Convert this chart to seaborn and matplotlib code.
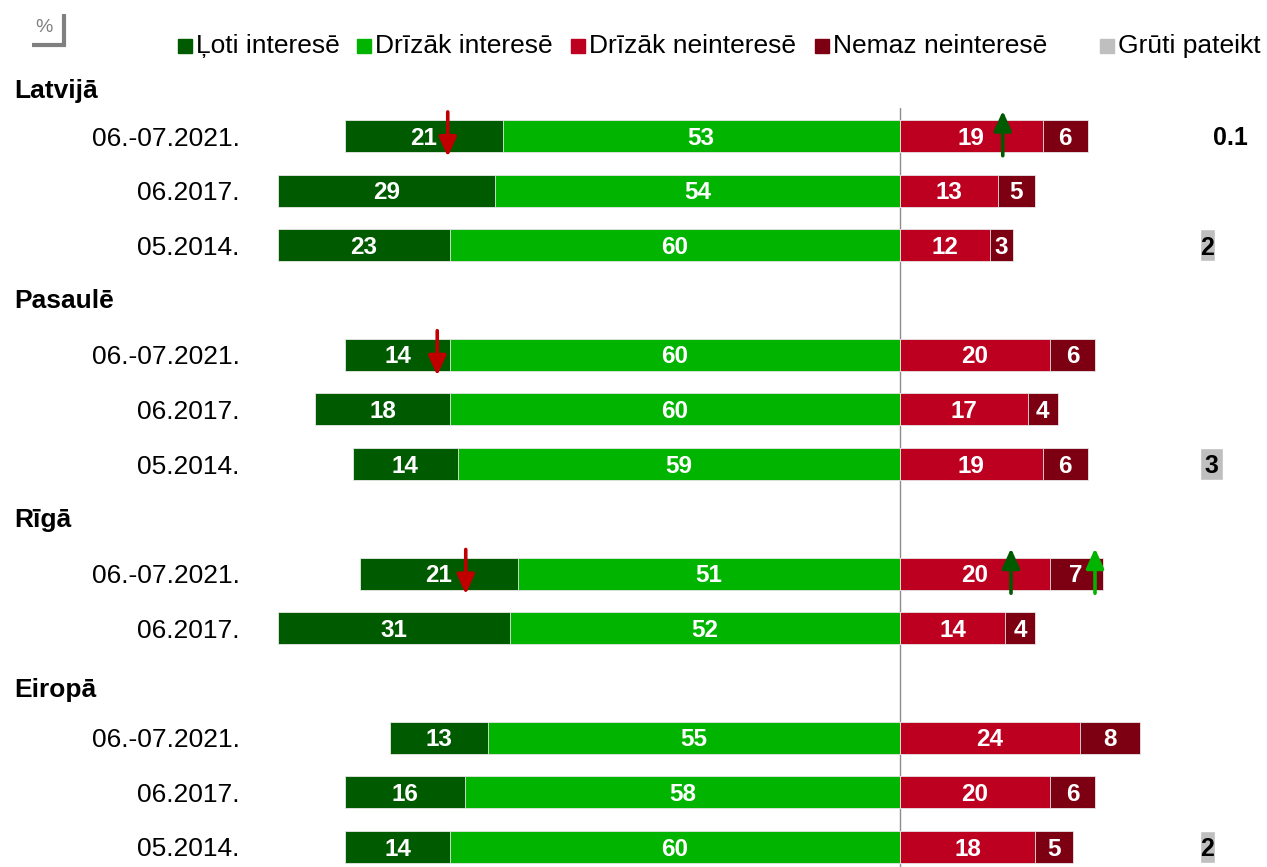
import matplotlib
matplotlib.use('Agg')
import matplotlib.pyplot as plt
from matplotlib.patches import Rectangle
from matplotlib.lines import Line2D
from matplotlib.transforms import blended_transform_factory
import seaborn as sns
import pandas as pd
import numpy as np

# data
groups = ['Latvijā', 'Pasaulē', 'Rīgā', 'Eiropā']
dates = ['06.-07.2021.', '06.2017.', '05.2014.',
         '06.-07.2021.', '06.2017.', '05.2014.',
         '06.-07.2021.', '06.2017.',
         '06.-07.2021.', '06.2017.', '05.2014.']
group_of_row = [0, 0, 0, 1, 1, 1, 2, 2, 3, 3, 3]
very = [21, 29, 23, 14, 18, 14, 21, 31, 13, 16, 14]
rather = [53, 54, 60, 60, 60, 59, 51, 52, 55, 58, 60]
rather_not = [19, 13, 12, 20, 17, 19, 20, 14, 24, 20, 18]
not_at_all = [6, 5, 3, 6, 4, 6, 7, 4, 8, 6, 5]
hard = [0.1, np.nan, 2, np.nan, np.nan, 3, np.nan, np.nan, np.nan, np.nan, 2]
legend_labels = ['Ļoti interesē', 'Drīzāk interesē', 'Drīzāk neinteresē',
                 'Nemaz neinteresē', 'Grūti pateikt']

# significant change markers: (row, x position, direction, colour key)
markers = [(0, -60.3, 'down', 'red'), (0, 13.7, 'up', 'dgreen'),
           (3, -61.7, 'down', 'red'),
           (6, -57.9, 'down', 'red'), (6, 14.8, 'up', 'dgreen'), (6, 26.0, 'up', 'lgreen')]

DGREEN = '#005A00'
LGREEN = '#00B400'
RED = '#BE0020'
DRED = '#7D0012'
GREY = '#BFBFBF'
colors = [DGREEN, LGREEN, RED, DRED, GREY]
arrow_colors = {'red': '#C00000', 'dgreen': '#005A00', 'lgreen': '#00B400'}

sns.set_theme(style='white')
plt.rcParams['font.family'] = ['Liberation Sans', 'DejaVu Sans']
plt.rcParams['text.color'] = 'black'
plt.rcParams['ytick.color'] = 'black'
plt.rcParams['ytick.labelcolor'] = 'black'

# each group header takes one slot, rows follow
pos = []
slot = 0
for g in range(len(groups)):
    slot += 1
    for r, gr in enumerate(group_of_row):
        if gr == g:
            pos.append(slot)
            slot += 1

df = pd.DataFrame({'pos': pos, 'date': dates, 'very': very, 'rather': rather,
                   'rather_not': rather_not, 'not_at_all': not_at_all, 'hard': hard})
df['left_total'] = -(df['very'] + df['rather'])
df['left_inner'] = -df['rather']
df['right_total'] = df['rather_not'] + df['not_at_all']
df['right_inner'] = df['rather_not']

fig = plt.figure(figsize=(12.67, 8.67), dpi=100)
W, H = 1267, 867
ax = fig.add_axes([255 / W, 0, 1 - 255 / W, (867 - 108) / H])

bar_h = 0.585
for col, c in [('left_total', DGREEN), ('left_inner', LGREEN),
               ('right_total', DRED), ('right_inner', RED)]:
    sns.barplot(data=df, x=col, y='pos', orient='y', native_scale=True,
                color=c, saturation=1, width=bar_h, errorbar=None,
                edgecolor='#E8E8E8', linewidth=0.6, ax=ax)

hard_left = 40
ax.barh(df['pos'], df['hard'].fillna(0), left=hard_left, height=bar_h, color=GREY)

# labels inside bars
lab_kw = dict(color='white', fontsize=17.5, fontweight='bold', ha='center', va='center')
for _, r in df.iterrows():
    y = r['pos'] + 0.04
    ax.text(-(r['rather'] + r['very'] / 2), y, f"{r['very']:g}", **lab_kw)
    ax.text(-r['rather'] / 2, y, f"{r['rather']:g}", **lab_kw)
    ax.text(r['rather_not'] / 2, y, f"{r['rather_not']:g}", **lab_kw)
    ax.text(r['rather_not'] + r['not_at_all'] / 2, y, f"{r['not_at_all']:g}", **lab_kw)
    h = r['hard']
    if not np.isnan(h):
        if h >= 1:
            ax.text(hard_left + h / 2, y, f"{h:g}", color='black',
                    fontsize=18, fontweight='bold', ha='center', va='center')
        else:
            ax.text(hard_left + 1.8, y, f"{h:g}", color='black',
                    fontsize=18, fontweight='bold', ha='left', va='center')

# arrows
for row, x, d, ck in markers:
    y = pos[row]
    if d == 'down':
        tail, tip = y - 0.44, y + 0.38
    else:
        tail, tip = y + 0.36, y - 0.46
    ax.annotate('', xy=(x, tip), xytext=(x, tail),
                arrowprops=dict(arrowstyle='-|>,head_width=0.45,head_length=1.0',
                                color=arrow_colors[ck], lw=2.6, shrinkA=0, shrinkB=0))

ax.axvline(0, color='#8C8C8C', lw=1, zorder=0.5)

ax.set_xlim((255 - 900) / 7.5, (1267 - 900) / 7.5)
ax.set_ylim(14.366, 0.488)
ax.set_yticks(df['pos'])
ax.set_yticklabels(df['date'], fontsize=19, color='black')
ax.tick_params(axis='y', length=0, pad=11)
ax.set_xticks([])
ax.set_xlabel('')
ax.set_ylabel('')
for s in ax.spines.values():
    s.set_visible(False)

# group headers
trans = blended_transform_factory(fig.transFigure, ax.transData)
header_y = [0.18, 4.02, 8.02, 11.13]
for g, hy in zip(groups, header_y):
    ax.text(14 / W, hy, g, transform=trans, fontsize=19, fontweight='bold',
            ha='left', va='center', clip_on=False, color='black')

# legend
sq_x = [178, 357, 571, 815, 1100]
for x0, lab, c in zip(sq_x, legend_labels, colors):
    fig.add_artist(Rectangle((x0 / W, 1 - 53 / H), 14 / W, 14 / H,
                             transform=fig.transFigure, color=c))
    fig.text((x0 + 18) / W, 1 - 46 / H, lab, fontsize=19, ha='left', va='center',
             color='black')

# "%" box
fig.text(44 / W, 1 - 27 / H, '%', fontsize=14, color='#808080', ha='center', va='center')
fig.add_artist(Line2D([64 / W, 64 / W], [1 - 14 / H, 1 - 46 / H], color='#808080', lw=3,
                      transform=fig.transFigure, solid_capstyle='butt'))
fig.add_artist(Line2D([32 / W, 65.5 / W], [1 - 45 / H, 1 - 45 / H], color='#808080', lw=3,
                      transform=fig.transFigure, solid_capstyle='butt'))

fig.savefig('out.png', dpi=100)
